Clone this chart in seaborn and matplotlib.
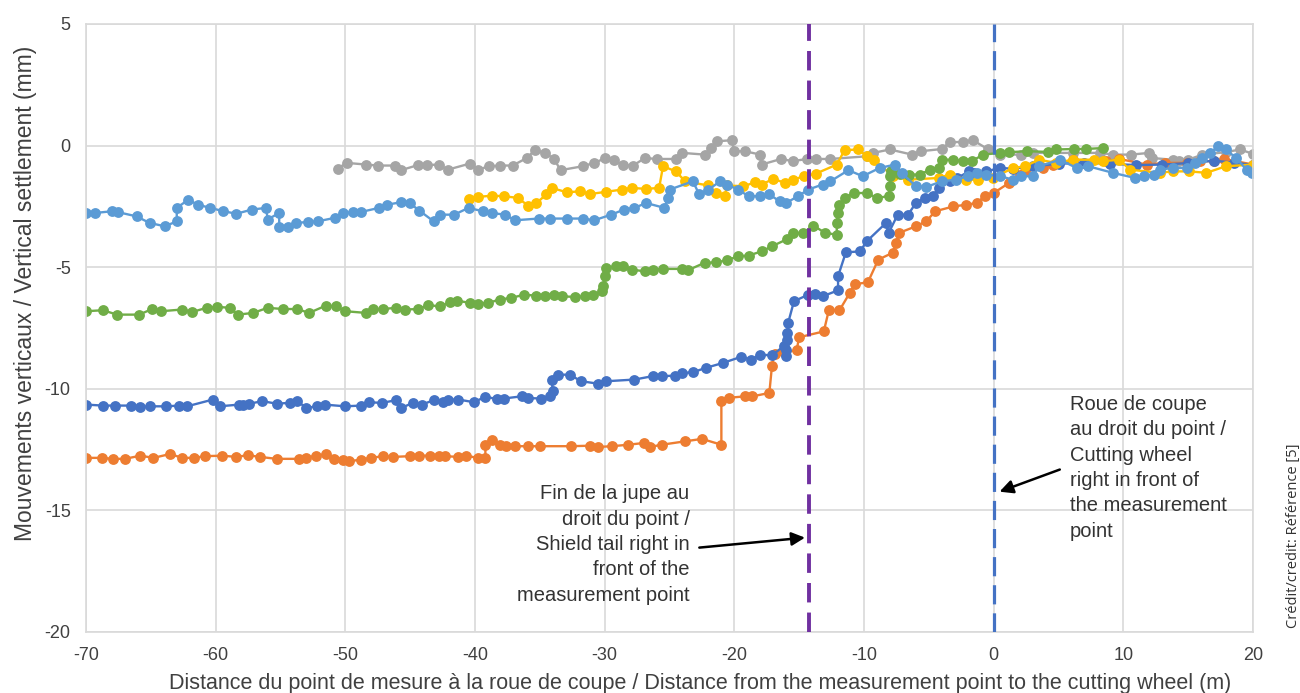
import matplotlib
matplotlib.use("Agg")
import matplotlib.pyplot as plt
import pandas as pd
import seaborn as sns

# --------------------------------------------------------------------------- #
# Data (distance in m, settlement in mm)
# --------------------------------------------------------------------------- #
gray_x = [-50.6, -49.9, -48.4, -47.5, -46.2, -45.7, -44.4, -43.7, -42.8, -42.1, -40.4, -39.8, -38.9,
          -38.1, -37.1, -36.0, -35.4, -34.6, -33.9, -33.4, -31.7, -30.8, -30.0, -29.3, -28.6, -27.8,
          -26.9, -26.0, -24.5, -24.0, -22.3, -21.8, -21.3, -20.2, -20.0, -19.2, -18.0, -17.9, -16.4,
          -15.5, -14.4, -13.7, -12.6, -9.8, -9.3, -8.0, -6.3, -5.6, -4.0, -3.4, -2.4, -1.6, -0.4, 0.5,
          2.1, 3.0, 6.1, 8.2, 9.2, 10.6, 12.0, 12.2, 13.8, 14.3, 15.0, 16.1, 17.9, 19.0, 20.0]
gray_y = [-0.95, -0.71, -0.78, -0.82, -0.82, -1.01, -0.80, -0.80, -0.78, -0.99, -0.74, -0.99, -0.85,
          -0.82, -0.82, -0.51, -0.19, -0.30, -0.55, -1.01, -0.85, -0.71, -0.53, -0.60, -0.80, -0.82,
          -0.51, -0.55, -0.55, -0.30, -0.37, -0.10, 0.18, 0.22, -0.23, -0.23, -0.37, -0.78, -0.55,
          -0.64, -0.55, -0.55, -0.55, -0.44, -0.30, -0.16, -0.37, -0.23, -0.14, 0.14, 0.15, 0.22, -0.16,
          -0.37, -0.37, -0.30, -0.30, -0.30, -0.37, -0.37, -0.30, -0.51, -0.58, -0.62, -0.58, -0.37,
          -0.27, -0.16, -0.34]

orange_x = [-70.0, -68.8, -67.9, -67.0, -65.8, -64.8, -63.5, -62.6, -61.7, -60.8, -59.5, -58.4, -57.5,
            -56.6, -55.3, -53.6, -53.0, -52.3, -51.5, -50.9, -50.2, -49.7, -48.8, -48.0, -47.1, -46.3,
            -45.0, -44.3, -43.5, -42.8, -42.3, -41.3, -40.7, -39.8, -39.2, -39.2, -38.7, -38.1, -37.6,
            -36.9, -35.9, -35.0, -32.6, -31.1, -30.5, -29.4, -28.2, -27.0, -26.5, -25.6, -23.8, -22.5,
            -21.0, -21.0, -20.4, -19.2, -18.6, -17.3, -17.1, -16.9, -16.2, -15.2, -15.0, -13.1, -12.7,
            -11.9, -11.1, -10.7, -9.7, -8.9, -7.8, -7.5, -7.3, -6.0, -5.2, -4.5, -3.1, -2.1, -1.3, -0.7,
            0.0, 1.2, 2.0, 2.4, 3.8, 4.6, 6.1, 8.7, 9.7, 11.8, 13.2, 14.9, 15.9, 17.0, 17.8, 20.0]
orange_y = [-12.84, -12.84, -12.88, -12.88, -12.75, -12.84, -12.68, -12.84, -12.84, -12.77, -12.75,
            -12.80, -12.73, -12.80, -12.88, -12.88, -12.84, -12.75, -12.70, -12.88, -12.94, -12.98,
            -12.91, -12.84, -12.77, -12.80, -12.77, -12.75, -12.75, -12.77, -12.77, -12.80, -12.75,
            -12.84, -12.84, -12.30, -12.12, -12.30, -12.34, -12.36, -12.36, -12.36, -12.36, -12.34,
            -12.39, -12.36, -12.30, -12.23, -12.39, -12.30, -12.16, -12.06, -12.30, -10.51, -10.37,
            -10.31, -10.31, -10.17, -9.07, -8.55, -8.50, -8.42, -7.88, -7.64, -6.74, -6.78, -6.06,
            -5.70, -5.62, -4.69, -4.41, -4.00, -3.59, -3.32, -3.11, -2.70, -2.50, -2.43, -2.36, -2.08,
            -1.95, -1.53, -1.19, -1.06, -0.92, -0.78, -0.58, -0.64, -0.55, -0.78, -0.71, -0.71, -0.64,
            -0.64, -0.55, -0.78]

blue_x = [-70.0, -68.7, -67.8, -66.5, -65.8, -65.1, -63.8, -62.8, -62.2, -60.2, -59.7, -58.2, -57.9,
          -57.4, -56.4, -55.3, -54.3, -53.7, -53.0, -52.2, -51.6, -50.0, -48.8, -48.2, -47.2, -46.1,
          -45.7, -44.8, -44.1, -43.2, -42.5, -42.1, -41.3, -40.1, -39.2, -38.3, -37.8, -36.4, -35.9,
          -34.9, -34.2, -34.0, -34.1, -33.6, -32.7, -31.8, -30.5, -29.9, -27.7, -26.3, -25.6, -24.6,
          -24.0, -23.2, -22.2, -20.9, -19.5, -18.7, -18.0, -17.1, -16.2, -16.0, -16.0, -15.95, -15.9,
          -15.85, -15.4, -14.3, -13.8, -13.2, -12.0, -12.0, -11.4, -10.3, -9.8, -8.3, -8.1, -7.4,
          -6.6, -6.0, -5.3, -4.7, -4.2, -3.4, -2.8, -1.9, -1.5, -0.6, 0.5, 1.5, 3.0, 5.0, 7.0, 9.0,
          11.0, 13.0, 15.0, 17.0, 18.5, 20.0]
blue_y = [-10.65, -10.69, -10.69, -10.69, -10.75, -10.72, -10.72, -10.69, -10.72, -10.44, -10.72,
          -10.65, -10.65, -10.61, -10.51, -10.61, -10.58, -10.51, -10.79, -10.72, -10.65, -10.72,
          -10.69, -10.55, -10.58, -10.47, -10.79, -10.58, -10.65, -10.47, -10.55, -10.44, -10.44,
          -10.55, -10.33, -10.42, -10.40, -10.31, -10.38, -10.40, -10.31, -10.10, -9.62, -9.42,
          -9.42, -9.69, -9.79, -9.69, -9.62, -9.48, -9.48, -9.46, -9.35, -9.32, -9.14, -8.94, -8.69,
          -8.80, -8.59, -8.63, -8.25, -8.66, -8.40, -7.98, -7.70, -7.29, -6.40, -6.13, -6.09, -6.20,
          -5.95, -5.37, -4.39, -4.35, -3.94, -3.18, -3.59, -2.84, -2.84, -2.36, -2.15, -2.08, -1.74,
          -1.47, -1.33, -1.06, -1.12, -1.06, -0.92, -0.95, -0.85, -0.75, -0.70, -0.75, -0.80, -0.78,
          -0.72, -0.62, -0.70, -0.80]

yellow_x = [-40.5, -39.8, -38.7, -37.8, -36.7, -35.9, -35.3, -34.5, -34.1, -32.9, -31.9, -31.1, -29.9,
            -28.7, -27.9, -26.8, -25.8, -25.5, -24.5, -23.8, -22.0, -21.4, -20.7, -20.6, -19.3, -18.4,
            -17.9, -17.0, -16.1, -15.5, -14.6, -13.7, -12.1, -11.5, -10.5, -9.8, -9.2, -7.8, -6.6,
            -4.2, -3.4, -2.1, -1.2, -0.05, 1.5, 2.4, 3.5, 4.8, 6.1, 7.7, 8.4, 9.7, 10.5, 12.8, 13.8,
            15.1, 16.4, 17.9, 20.0]
yellow_y = [-2.20, -2.11, -2.06, -2.08, -2.15, -2.47, -2.38, -2.01, -1.74, -1.92, -1.88, -1.99, -1.90,
            -1.81, -1.74, -1.78, -1.74, -0.85, -1.06, -1.47, -1.64, -1.94, -2.08, -1.64, -1.67, -1.51,
            -1.60, -1.37, -1.53, -1.40, -1.26, -1.15, -0.78, -0.19, -0.16, -0.41, -0.58, -1.25, -1.40,
            -1.33, -1.19, -1.40, -1.40, -1.33, -0.92, -0.85, -0.58, -0.71, -0.58, -0.58, -0.64, -0.58,
            -0.99, -1.12, -1.06, -1.06, -1.12, -0.85, -0.78]

lightblue_x = [-70.0, -69.3, -68.0, -67.5, -66.1, -65.1, -63.9, -63.0, -63.0, -62.1, -61.4, -60.4, -59.4,
               -58.4, -57.2, -56.1, -56.0, -55.1, -55.1, -54.4, -53.8, -52.9, -52.1, -50.8, -50.2,
               -49.4, -48.8, -47.4, -46.8, -45.7, -45.0, -44.3, -43.2, -42.7, -41.6, -40.5, -39.4,
               -38.7, -37.7, -36.9, -35.1, -34.2, -32.9, -31.7, -30.8, -29.5, -28.5, -27.7, -26.8,
               -25.4, -25.1, -25.0, -23.2, -22.7, -22.0, -21.1, -20.6, -19.7, -18.9, -18.0, -17.3,
               -16.5, -16.0, -15.1, -14.3, -13.2, -12.6, -11.2, -10.1, -8.8, -7.6, -7.1, -6.0, -5.2,
               -4.0, -2.9, -2.0, -1.3, -0.6, 0.5, 1.5, 2.1, 3.0, 3.5, 5.1, 6.4, 7.3, 9.2, 10.9, 11.6,
               12.4, 12.8, 13.8, 14.9, 15.5, 16.1, 16.7, 17.3, 17.9, 18.7, 19.5, 19.9]
lightblue_y = [-2.77, -2.77, -2.70, -2.74, -2.91, -3.18, -3.32, -3.11, -2.56, -2.22, -2.43, -2.56, -2.70,
               -2.80, -2.63, -2.56, -3.04, -2.77, -3.36, -3.36, -3.18, -3.14, -3.11, -2.97, -2.77,
               -2.74, -2.73, -2.56, -2.43, -2.33, -2.38, -2.67, -3.11, -2.84, -2.84, -2.56, -2.70,
               -2.77, -2.84, -3.07, -3.00, -3.00, -3.00, -3.00, -3.07, -2.84, -2.63, -2.56, -2.36,
               -2.56, -2.15, -1.81, -1.47, -2.01, -1.81, -1.47, -1.60, -1.81, -2.08, -2.08, -2.01,
               -2.29, -2.36, -2.08, -1.81, -1.60, -1.47, -1.01, -1.26, -0.92, -0.78, -1.12, -1.67,
               -1.70, -1.47, -1.40, -1.26, -1.12, -1.19, -1.26, -1.40, -1.26, -1.26, -0.85, -0.58,
               -0.92, -0.85, -1.12, -1.33, -1.26, -1.19, -0.99, -0.92, -0.92, -0.71, -0.51, -0.30,
               -0.03, -0.16, -0.51, -0.99, -1.12]

green_x = [-70.0, -68.7, -67.6, -65.9, -64.9, -64.2, -62.6, -61.8, -60.7, -59.9, -58.9, -58.3, -57.1,
           -56.0, -54.8, -53.7, -52.8, -51.5, -50.7, -50.0, -48.4, -47.9, -47.1, -46.1, -45.4, -44.4,
           -43.6, -42.7, -41.9, -41.4, -40.4, -39.8, -39.0, -38.1, -37.2, -36.2, -35.3, -34.6, -33.9,
           -33.3, -32.3, -31.5, -30.9, -30.2, -30.1, -30.0, -29.9, -29.1, -28.6, -27.9, -26.9, -26.3,
           -25.5, -24.0, -23.6, -22.3, -21.4, -20.6, -19.7, -18.9, -17.9, -17.1, -15.9, -15.5, -14.7,
           -13.9, -13.0, -12.1, -12.1, -12.0, -11.9, -11.5, -10.8, -9.8, -9.0, -8.1, -8.0, -8.0, -7.9,
           -7.2, -6.5, -5.7, -4.9, -4.2, -4.0, -3.1, -2.4, -1.7, -0.8, 0.5, 1.2, 2.6, 4.2, 4.8, 6.2,
           7.1, 8.4]
green_y = [-6.81, -6.77, -6.95, -6.95, -6.72, -6.81, -6.74, -6.84, -6.67, -6.63, -6.67, -6.95, -6.88,
           -6.67, -6.72, -6.72, -6.88, -6.58, -6.61, -6.81, -6.88, -6.72, -6.72, -6.67, -6.74, -6.72,
           -6.56, -6.61, -6.44, -6.37, -6.47, -6.50, -6.47, -6.33, -6.26, -6.13, -6.17, -6.17, -6.13,
           -6.20, -6.22, -6.20, -6.13, -5.99, -5.78, -5.37, -5.03, -4.96, -4.96, -5.10, -5.17, -5.10,
           -5.07, -5.07, -5.13, -4.82, -4.80, -4.72, -4.55, -4.52, -4.35, -4.14, -3.84, -3.59, -3.59,
           -3.29, -3.59, -3.66, -3.18, -2.77, -2.43, -2.15, -1.95, -1.95, -2.15, -2.08, -1.67, -1.26,
           -1.06, -1.15, -1.19, -1.19, -0.99, -0.92, -0.58, -0.58, -0.64, -0.64, -0.37, -0.30, -0.27,
           -0.23, -0.26, -0.16, -0.14, -0.14, -0.10]

# draw order (last on top) and colours of the series
series_names = ["gray", "orange", "blue", "yellow", "green", "lightblue"]
series_colors = ["#A5A5A5", "#ED7D31", "#4472C4", "#FFC000", "#70AD47", "#5B9BD5"]

shield_tail_x = -14.25
cutting_wheel_x = 0.0

x_ticks = [-70, -60, -50, -40, -30, -20, -10, 0, 10, 20]
y_ticks = [-20, -15, -10, -5, 0, 5]

x_label = ("Distance du point de mesure à la roue de coupe / "
           "Distance from the measurement point to the cutting wheel (m)")
y_label = "Mouvements verticaux / Vertical settlement (mm)"
note_tail = ("Fin de la jupe au\ndroit du point /\nShield tail right in\n"
             "front of the\nmeasurement point")
note_wheel = ("Roue de coupe\nau droit du point /\nCutting wheel\n"
              "right in front of\nthe measurement\npoint")
credit = "Crédit/credit: Référence [5]"

# --------------------------------------------------------------------------- #
# Long table for seaborn
# --------------------------------------------------------------------------- #
raw = {
    "gray": (gray_x, gray_y),
    "orange": (orange_x, orange_y),
    "blue": (blue_x, blue_y),
    "yellow": (yellow_x, yellow_y),
    "green": (green_x, green_y),
    "lightblue": (lightblue_x, lightblue_y),
}
df = pd.concat(
    [pd.DataFrame({"x": raw[n][0], "y": raw[n][1], "series": n}) for n in series_names],
    ignore_index=True,
)

# --------------------------------------------------------------------------- #
# Style
# --------------------------------------------------------------------------- #
sns.set_style("whitegrid", {"grid.color": "#D9D9D9", "axes.edgecolor": "#D9D9D9"})
plt.rcParams["font.family"] = ["Liberation Sans", "DejaVu Sans"]
plt.rcParams["axes.unicode_minus"] = False

fig = plt.figure(figsize=(13, 6.93), dpi=100)
ax = fig.add_axes([86 / 1300, 1 - 632 / 693, (1253 - 86) / 1300, (632 - 24) / 693])

# one call per series keeps the raw point order (vertical steps included)
for name, color in zip(series_names, series_colors):
    sub = df[df["series"] == name]
    sns.lineplot(data=sub, x="x", y="y", sort=False, estimator=None,
                 color=color, marker="o", markersize=7.8, markeredgewidth=0,
                 linewidth=1.7, ax=ax)

ax.axvline(shield_tail_x, color="#7030A0", linewidth=2.8, linestyle=(0, (5, 2.6)), zorder=5)
ax.axvline(cutting_wheel_x, color="#4472C4", linewidth=2.3, linestyle=(0, (6, 2.8)), zorder=5)

ax.set_xlim(-70, 20)
ax.set_ylim(-20, 5)
ax.set_xticks(x_ticks)
ax.set_yticks(y_ticks)
ax.grid(True, color="#D9D9D9", linewidth=1.2)
for sp in ax.spines.values():
    sp.set_color("#D9D9D9")
    sp.set_linewidth(1.2)
ax.tick_params(length=0, pad=11, labelsize=13, labelcolor="#404040")

ax.set_xlabel(x_label, fontsize=15.5, color="#404040")
ax.xaxis.set_label_coords(0.526, -0.068)
ax.set_ylabel(y_label, fontsize=16.5, color="#404040")
ax.yaxis.set_label_coords(-0.042, 0.5576)

ax.text(-23.45, -16.4, note_tail, ha="right", va="center", multialignment="right",
        fontsize=14.5, color="#333333", linespacing=1.42)
ax.text(5.9, -13.25, note_wheel, ha="left", va="center", multialignment="left",
        fontsize=14.5, color="#333333", linespacing=1.42)

arrow = dict(arrowstyle="-|>", color="black", lw=1.8, mutation_scale=20, shrinkA=0, shrinkB=0)
ax.annotate("", xy=(-14.55, -16.12), xytext=(-22.7, -16.53), arrowprops=arrow)
ax.annotate("", xy=(0.45, -14.23), xytext=(5.1, -13.32), arrowprops=arrow)

fig.text(1293 / 1300, 1 - 536 / 693, credit, rotation=90, ha="center", va="center",
         fontsize=10.5, color="#333333", family=["Open Sans", "DejaVu Sans"])

fig.savefig("out.png", dpi=100)
